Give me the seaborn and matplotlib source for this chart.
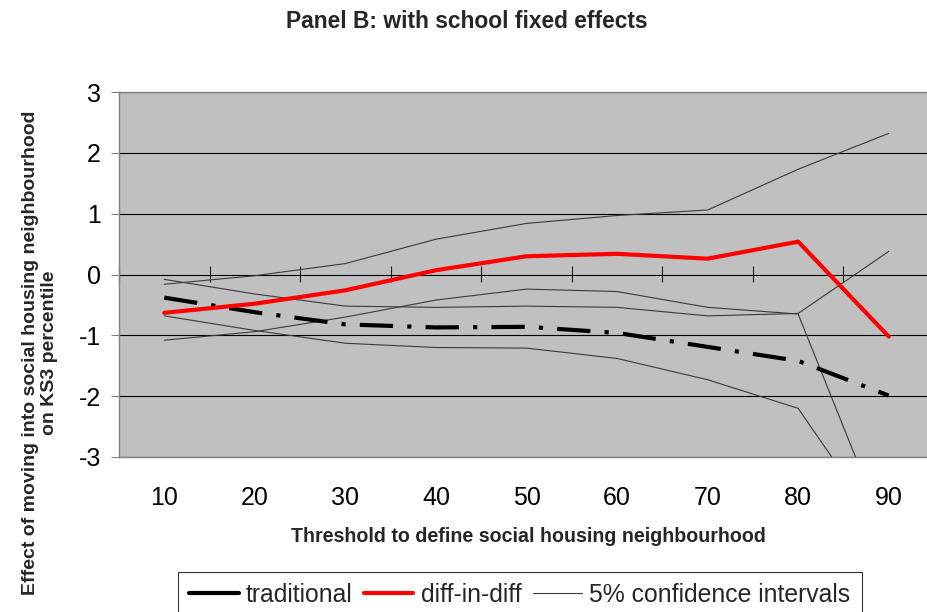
import numpy as np
import pandas as pd
import matplotlib
matplotlib.use("Agg")
import matplotlib.pyplot as plt
from matplotlib.lines import Line2D
import seaborn as sns

# Thresholds (percent social housing) defining the neighbourhood
thresholds = [10, 20, 30, 40, 50, 60, 70, 80, 90]

# Point estimates
traditional = [-0.38, -0.62, -0.82, -0.87, -0.86, -0.96, -1.19, -1.42, -1.99]
diff_in_diff = [-0.63, -0.48, -0.26, 0.07, 0.30, 0.34, 0.26, 0.54, -1.02]

# 5% confidence bands
trad_ci_upper = [-0.08, -0.32, -0.52, -0.54, -0.52, -0.54, -0.68, -0.64, 0.38]
trad_ci_lower = [-0.68, -0.92, -1.13, -1.20, -1.21, -1.38, -1.73, -2.20, -4.36]
did_ci_upper = [-0.16, -0.02, 0.18, 0.58, 0.84, 0.97, 1.06, 1.73, 2.32]
did_ci_lower = [-1.08, -0.94, -0.70, -0.42, -0.24, -0.28, -0.54, -0.65, -4.36]

y_ticks = [3, 2, 1, 0, -1, -2, -3]

sns.set_style("white")
plt.rcParams["font.family"] = ["Liberation Sans", "DejaVu Sans"]

df = pd.DataFrame({
    "pos": np.arange(len(thresholds)),
    "traditional": traditional,
    "diff_in_diff": diff_in_diff,
    "trad_ci_upper": trad_ci_upper,
    "trad_ci_lower": trad_ci_lower,
    "did_ci_upper": did_ci_upper,
    "did_ci_lower": did_ci_lower,
})

W, H = 927, 612
fig = plt.figure(figsize=(W / 100, H / 100), dpi=100)
left, right, top, bottom = 119, 934, 92, 457
ax = fig.add_axes([left / W, 1 - bottom / H, (right - left) / W, (bottom - top) / H])
ax.set_facecolor("#C0C0C0")

ci_color = "#3a3a3a"
for col in ["trad_ci_upper", "trad_ci_lower", "did_ci_upper", "did_ci_lower"]:
    sns.lineplot(data=df, x="pos", y=col, ax=ax, color=ci_color, linewidth=0.8,
                 legend=False, zorder=3)

sns.lineplot(data=df, x="pos", y="diff_in_diff", ax=ax, color="#FF0000",
             linewidth=3.0, legend=False, zorder=5)
sns.lineplot(data=df, x="pos", y="traditional", ax=ax, color="black",
             linewidth=3.0, legend=False, zorder=4)
trad_line = ax.get_lines()[-1]
trad_line.set_dashes([8, 3.4, 1.0, 3.4])
trad_line.set_dash_capstyle("butt")

ax.set_xlim(-0.5, len(thresholds) - 0.5)
ax.set_ylim(-3, 3)

# horizontal gridlines
ax.set_yticks(y_ticks)
ax.set_yticklabels([str(v) for v in y_ticks], fontsize=18)
ax.yaxis.grid(True, color="black", linewidth=0.8)
ax.xaxis.grid(False)
ax.set_axisbelow(True)
ax.tick_params(axis="y", which="major", left=True, length=6, width=0.8,
               color="#808080", pad=7, labelcolor="black")

# category labels sit below the plot area
ax.set_xticks(np.arange(len(thresholds)))
ax.set_xticklabels([str(t) for t in thresholds], fontsize=18)
ax.tick_params(axis="x", which="major", length=0, pad=21, labelcolor="black")

for name, sp in ax.spines.items():
    sp.set_color("#808080")
    sp.set_linewidth(1.0)

# category axis crossing at zero, with tick marks between categories
mid = (0 - (-3)) / (3 - (-3))
sec = ax.secondary_xaxis(mid)
sec.patch.set_visible(False)
sec.set_xticks(np.arange(-0.5, len(thresholds), 1.0))
sec.tick_params(axis="x", direction="inout", length=11.5, width=0.8,
                color="#202020", labelbottom=False, labeltop=False)
for sp in sec.spines.values():
    sp.set_visible(False)

ax.set_xlabel("")
ax.set_ylabel("")

fig.text(467 / W, 1 - 22 / H, "Panel B: with school fixed effects",
         ha="center", va="center", fontsize=16.4, fontweight="bold")
fig.text(528 / W, 1 - 536 / H, "Threshold to define social housing neighbourhood",
         ha="center", va="center", fontsize=14.1, fontweight="bold")
fig.text(40 / W, 1 - 353 / H,
         "Effect of moving into social housing neighbourhood\non KS3 percentile",
         ha="center", va="center", rotation=90, multialignment="center",
         fontsize=14, fontweight="bold", linespacing=1.1)

handles = [
    Line2D([], [], color="black", linewidth=3.0),
    Line2D([], [], color="#FF0000", linewidth=3.0),
    Line2D([], [], color=ci_color, linewidth=0.8),
]
labels = ["traditional", "diff-in-diff", "5% confidence intervals"]
leg = fig.legend(handles, labels, loc="upper left",
                 bbox_to_anchor=(178 / W, 1 - 572 / H), ncol=3, fontsize=17.8,
                 frameon=True, fancybox=False, handlelength=2.0,
                 handletextpad=0.3, columnspacing=0.45, borderpad=0.45,
                 borderaxespad=0)
leg.get_frame().set_edgecolor("black")
leg.get_frame().set_linewidth(0.8)

fig.savefig("out.png", dpi=100, facecolor="white")
